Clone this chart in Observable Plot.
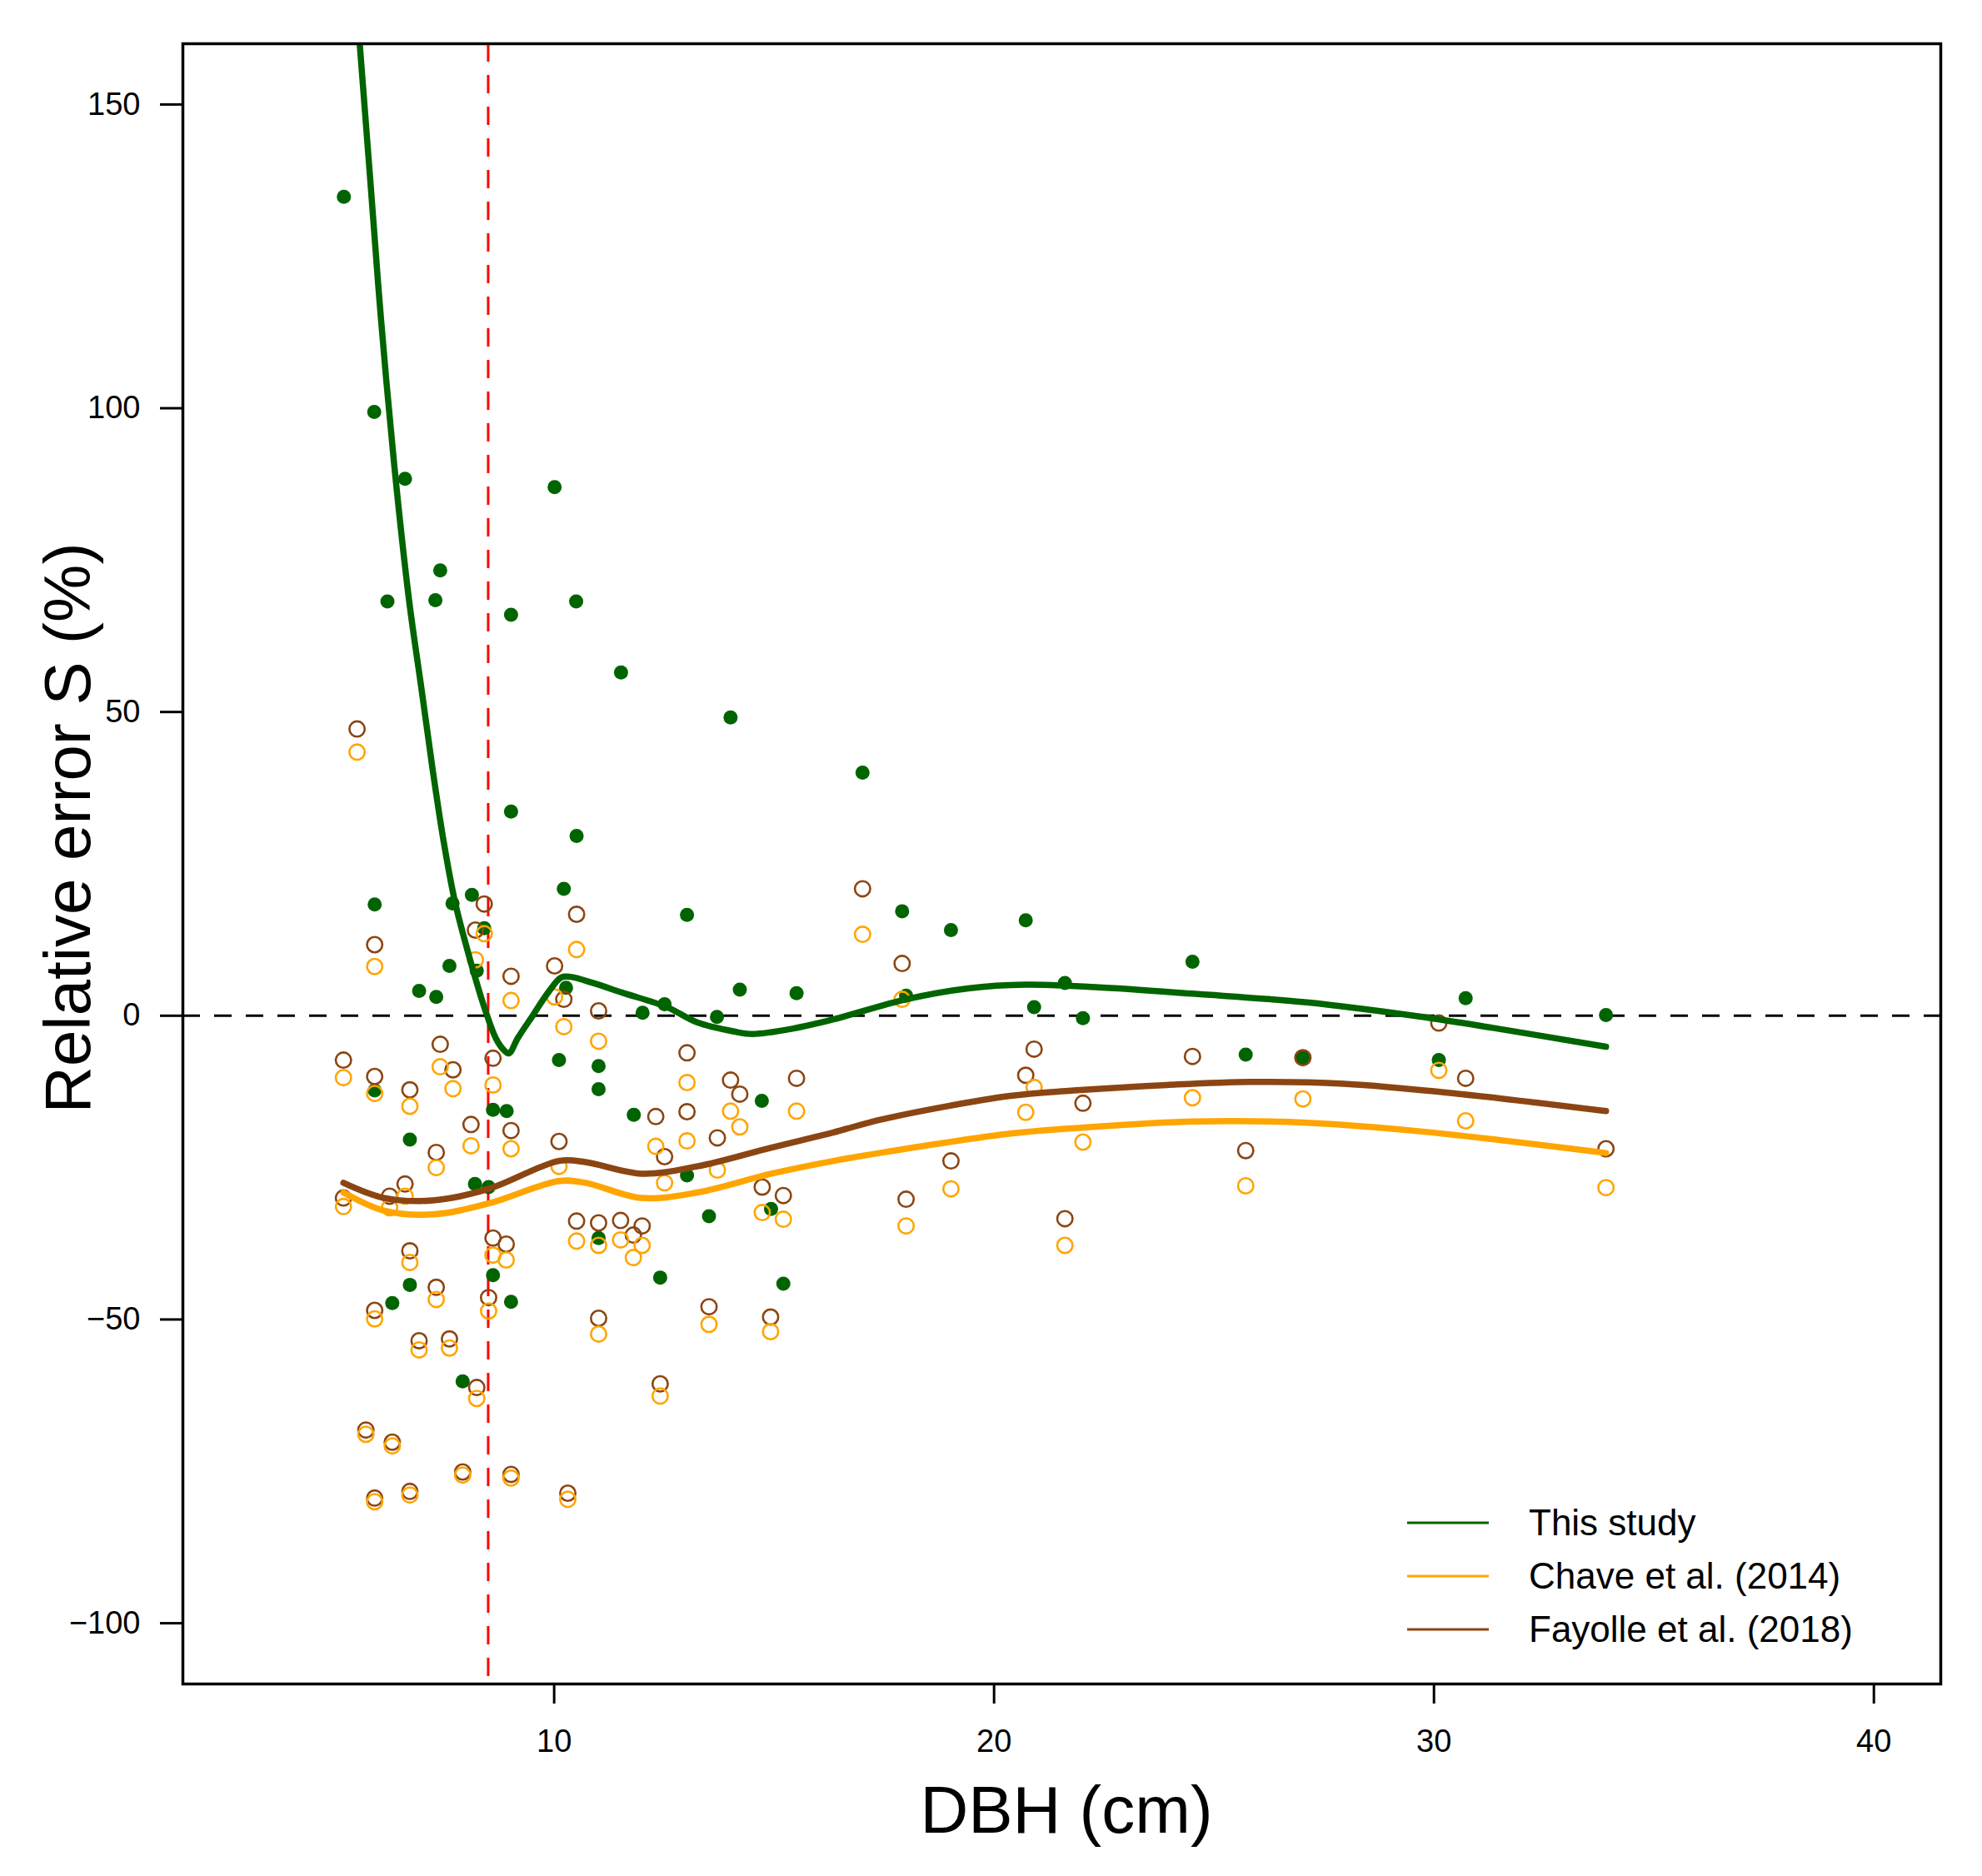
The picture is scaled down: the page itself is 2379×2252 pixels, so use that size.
<!DOCTYPE html>
<html>
<head>
<meta charset="utf-8">
<title>Relative error S vs DBH</title>
<script src="https://cdn.jsdelivr.net/npm/d3@7"></script>
<script src="https://cdn.jsdelivr.net/npm/@observablehq/plot@0.6"></script>
<style>
  html, body { margin: 0; padding: 0; background: #fff; }
  #chart { width: 2379px; height: 2252px; }
</style>
</head>
<body>
<div id="chart"></div>
<script>
// Tree-level relative errors (%) of the local model (This study)
const dbhLocal = [5.22, 5.91, 6.61, 6.21, 7.30, 7.41, 10.01, 10.50, 9.02, 11.52,
  14.01, 17.01, 9.02, 10.51, 10.22, 8.13, 7.69, 5.92, 13.02, 17.91,
  20.72, 19.02, 24.51, 7.62, 8.24, 6.93, 7.32, 8.41, 14.22, 15.51,
  12.51, 12.01, 13.70, 10.27, 10.11, 11.01, 11.01, 5.92, 14.72, 8.61,
  8.92, 11.81, 6.72, 8.20, 8.51, 13.02, 13.52, 14.93, 11.01, 8.61,
  12.41, 15.21, 6.72, 6.32, 9.02, 7.92, 21.61, 18.00, 20.91, 22.02,
  30.72, 33.91, 25.72, 27.02, 30.11];
const errThisStudy = [134.8, 99.4, 88.4, 68.2, 68.4, 73.3, 87.0, 68.2, 66.0, 56.5,
  49.1, 40.0, 33.6, 29.6, 20.9, 19.9, 18.5, 18.3, 16.6, 17.2,
  15.7, 14.1, 8.9, 8.2, 7.4, 4.1, 3.1, 14.4, 4.3, 3.7,
  1.9, 0.5, -0.2, 4.6, -7.3, -8.3, -12.1, -12.3, -14.0, -15.5,
  -15.7, -16.3, -20.4, -27.7, -28.2, -26.3, -33.0, -31.8, -36.6, -42.7,
  -43.1, -44.1, -44.3, -47.3, -47.1, -60.2, 5.4, 3.3, 1.4, -0.4,
  2.9, 0.1, -6.4, -6.9, -7.3];

// Tree-level relative errors (%) of the pantropical / regional models
const dbhRef = [5.52, 8.41, 8.21, 5.92, 9.02, 10.01, 10.22, 10.51, 11.01, 7.41,
  7.70, 5.21, 5.92, 6.72, 8.61, 13.02, 14.01, 14.22, 15.51, 13.02,
  12.31, 12.51, 13.71, 8.11, 9.02, 10.11, 7.32, 6.61, 5.21, 6.26,
  14.73, 15.21, 10.51, 11.01, 11.51, 12.00, 11.80, 8.61, 8.91, 6.72,
  7.32, 8.51, 5.92, 13.52, 14.92, 11.01, 6.93, 7.62, 8.24, 12.41,
  5.72, 6.32, 7.92, 9.02, 6.72, 5.92, 10.31, 17.01, 17.91, 20.91,
  20.72, 22.02, 19.02, 18.00, 21.61, 24.51, 27.02, 30.11, 30.72, 25.72,
  33.91];
const errChave = [43.4, 13.5, 9.2, 8.1, 2.5, 3.1, -1.8, 10.9, -4.2, -8.4,
  -12.0, -10.2, -12.8, -14.9, -11.4, -11.0, -15.7, -18.3, -15.7, -20.6,
  -21.5, -27.5, -25.4, -21.4, -21.9, -24.8, -25.0, -29.7, -31.4, -31.6,
  -32.4, -33.5, -37.1, -37.8, -36.9, -37.8, -39.8, -39.4, -40.2, -40.6,
  -46.7, -48.6, -49.9, -50.8, -52.0, -52.4, -55.0, -54.7, -63.0, -62.6,
  -68.9, -70.8, -75.6, -76.1, -78.9, -80.0, -79.6, 13.4, 2.7, -11.8,
  -15.9, -20.8, -28.5, -34.6, -37.8, -13.5, -13.7, -9.0, -17.3, -28.0,
  -28.3];
const errFayolle = [47.2, 18.4, 14.1, 11.7, 6.5, 8.2, 2.7, 16.7, 0.8, -4.7,
  -8.9, -7.3, -10.0, -12.2, -7.0, -6.1, -10.6, -12.9, -10.3, -15.8,
  -16.6, -23.2, -20.1, -17.9, -18.9, -20.7, -22.5, -27.7, -30.0, -29.7,
  -28.2, -29.6, -33.8, -34.1, -33.7, -34.6, -36.1, -36.6, -37.6, -38.7,
  -44.7, -46.4, -48.5, -47.9, -49.6, -49.8, -53.5, -53.2, -61.2, -60.6,
  -68.2, -70.2, -75.1, -75.5, -78.3, -79.4, -78.6, 20.9, 8.6, -5.5,
  -9.8, -14.4, -23.9, -30.2, -33.4, -6.7, -6.9, -1.2, -10.3, -22.2,
  -21.9];

// Smoothed trends of the relative error along DBH
const fitDbhThis = [5.21, 5.40, 5.58, 5.81, 6.06, 6.36, 6.70, 6.99, 7.24, 7.49,
  7.75, 8.09, 8.43, 8.68, 8.85, 8.97, 9.18, 9.52, 9.86, 10.16,
  10.37, 10.88, 11.55, 12.57, 13.25, 14.09, 14.51, 15.44, 16.35, 18.00,
  19.41, 20.72, 22.31, 24.57, 27.11, 29.64, 31.34, 33.91];
const fitErrThis = [197, 178, 160, 138.5, 115, 91, 68.5, 53.5, 40.4, 28.6,
  18.6, 9.2, 1.0, -3.8, -5.6, -6.2, -3.6, 0.1, 3.8, 6.3,
  6.4, 5.4, 3.8, 1.4, -1.1, -2.6, -3.0, -2.1, -0.6, 2.7,
  4.5, 5.1, 4.7, 3.6, 2.2, -0.1, -2.0, -5.1];
const fitDbhChave = [5.21, 6.14, 7.24, 8.51, 10.11, 10.71, 11.98, 13.25, 14.94, 16.35,
  17.48, 20.37, 22.04, 24.57, 27.11, 29.64, 33.91];
const fitErrChave = [-29.1, -32.1, -32.7, -30.9, -27.2, -27.5, -30.0, -29.1, -26.0, -23.9,
  -22.5, -19.4, -18.4, -17.4, -17.6, -19.0, -22.6];
const fitDbhFayolle = [5.21, 6.14, 7.24, 8.51, 10.11, 10.71, 11.98, 13.25, 14.94, 16.35,
  17.48, 20.37, 22.04, 23.93, 25.84, 27.95, 30.49, 33.91];
const fitErrFayolle = [-27.5, -30.0, -30.4, -28.5, -23.9, -24.1, -26.0, -24.8, -21.7, -19.2,
  -17.0, -13.2, -12.2, -11.4, -10.9, -11.2, -12.8, -15.7];

// Axis ticks and reference lines
const xTicks = [10, 20, 30, 40];
const yTicks = [-100, -50, 0, 50, 100, 150];
const dbhThreshold = [8.5];
const zeroError = [0];

const series = [
  {label: "This study", color: "#006400"},
  {label: "Chave et al. (2014)", color: "#FFA500"},
  {label: "Fayolle et al. (2018)", color: "#8B4513"}
];
const [cThis, cChave, cFayolle] = series.map(s => s.color);

const pts = (xs, ys) => xs.map((x, i) => ({dbh: x, err: ys[i]}));
const localPts = pts(dbhLocal, errThisStudy);
const chavePts = pts(dbhRef, errChave);
const fayollePts = pts(dbhRef, errFayolle);
const fitThis = pts(fitDbhThis, fitErrThis);
const fitChave = pts(fitDbhChave, fitErrChave);
const fitFayolle = pts(fitDbhFayolle, fitErrFayolle);

const font = "'Liberation Sans', Arial, Helvetica, sans-serif";
const W = 2379, H = 2252;
const M = {left: 219, right: 50, top: 52, bottom: 231};

const svg = Plot.plot({
  width: W,
  height: H,
  marginLeft: M.left,
  marginRight: M.right,
  marginTop: M.top,
  marginBottom: M.bottom,
  x: {domain: [1.56, 41.52]},
  y: {domain: [-110, 160]},
  style: {fontFamily: font, fontSize: "38px", color: "black", background: "white"},
  marks: [
    Plot.ruleY(zeroError, {stroke: "black", strokeWidth: 3, strokeDasharray: "21,17"}),
    Plot.ruleX(dbhThreshold, {stroke: "red", strokeWidth: 3, strokeDasharray: "22,16"}),
    Plot.dot(localPts, {x: "dbh", y: "err", r: 8.5, fill: cThis, stroke: "none"}),
    Plot.dot(fayollePts, {x: "dbh", y: "err", r: 9.2, fill: "none", stroke: cFayolle, strokeWidth: 2.6}),
    Plot.dot(chavePts, {x: "dbh", y: "err", r: 9.2, fill: "none", stroke: cChave, strokeWidth: 2.6}),
    Plot.line(fitChave, {x: "dbh", y: "err", stroke: cChave, strokeWidth: 7.5, curve: "catmull-rom"}),
    Plot.line(fitFayolle, {x: "dbh", y: "err", stroke: cFayolle, strokeWidth: 7.5, curve: "catmull-rom"}),
    Plot.line(fitThis, {x: "dbh", y: "err", stroke: cThis, strokeWidth: 7.5, curve: "catmull-rom", clip: true}),
    Plot.frame({stroke: "black", strokeWidth: 3.5}),
    Plot.axisX({ticks: xTicks, tickSize: 24, tickPadding: 31, fontSize: 38, strokeWidth: 3, label: null}),
    Plot.axisY({ticks: yTicks, tickSize: 27, tickPadding: 24, fontSize: 38, strokeWidth: 3, label: null})
  ]
});

const root = d3.select(svg);

// Axis titles
root.append("text")
  .attr("x", 1280).attr("y", 2200)
  .attr("text-anchor", "middle")
  .attr("font-family", font).attr("font-size", 80)
  .attr("fill", "black")
  .text("DBH (cm)");
root.append("text")
  .attr("transform", "translate(108,994) rotate(-90)")
  .attr("text-anchor", "middle")
  .attr("font-family", font).attr("font-size", 78)
  .attr("fill", "black")
  .text("Relative error S (%)");

// Legend in the lower-right corner of the panel
const legend = root.append("g")
  .attr("transform", "translate(1689,1828)")
  .attr("font-family", font)
  .attr("font-size", 44);
series.forEach((s, i) => {
  const row = legend.append("g").attr("transform", `translate(0,${i * 64})`);
  row.append("line").attr("x1", 0).attr("x2", 98).attr("y1", 0).attr("y2", 0)
    .attr("stroke", s.color).attr("stroke-width", 3);
  row.append("text").attr("x", 146).attr("y", 0).attr("dy", "0.35em")
    .attr("text-anchor", "start")
    .attr("fill", "black").text(s.label);
});

document.getElementById("chart").append(svg);
</script>
</body>
</html>
